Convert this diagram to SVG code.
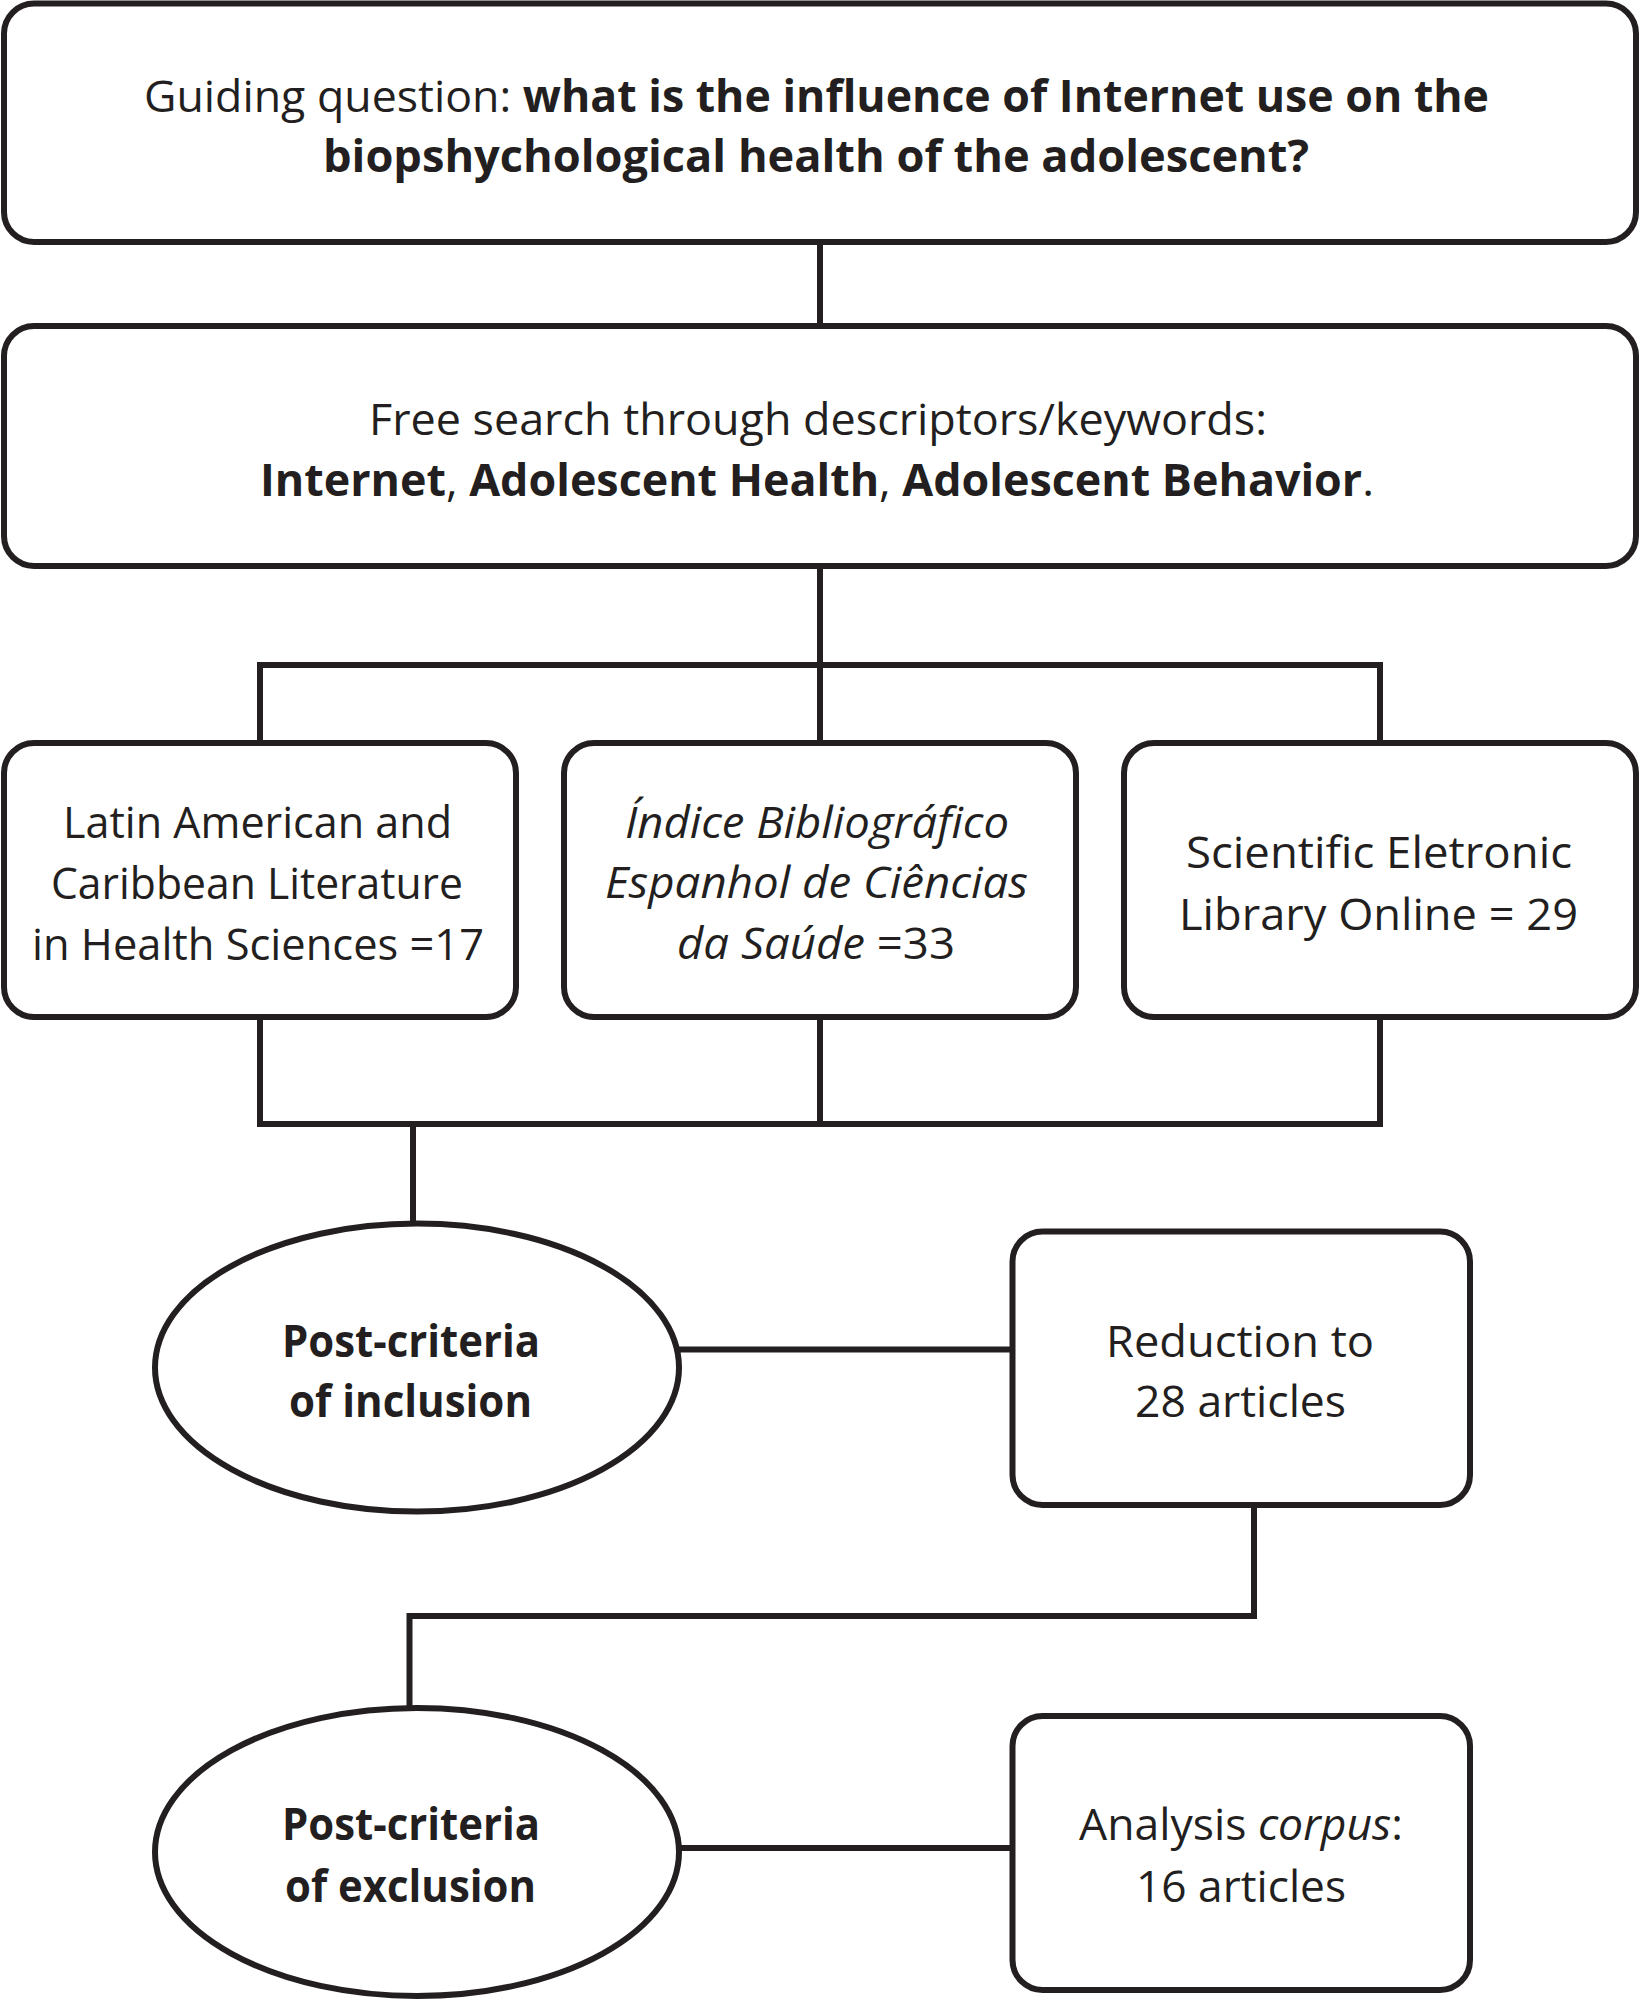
<svg xmlns="http://www.w3.org/2000/svg" width="1641" height="2000" viewBox="0 0 1641 2000">
<style>
.box{fill:#fff;stroke:#231f20;stroke-width:6}
.ln{fill:none;stroke:#231f20;stroke-width:6;stroke-linecap:butt;stroke-linejoin:miter}
text{font-family:"Open Sans","Noto Sans",sans-serif;font-size:44px;fill:#231f20}
.b{font-weight:700}
.i{font-style:italic}
</style>
<rect width="1641" height="2000" fill="#fff"/>
<g id="connectors">
<path class="ln" d="M820 242 V326"/>
<path class="ln" d="M820 566 V743"/>
<path class="ln" d="M260 743 V665 H1380 V743"/>
<path class="ln" d="M260 1017 V1124 H1380 V1017"/>
<path class="ln" d="M820 1017 V1124"/>
<path class="ln" d="M413 1124 V1224"/>
<path class="ln" d="M679 1349.5 H1012"/>
<path class="ln" d="M1254 1505 V1616 H409.5 V1708"/>
<path class="ln" d="M680 1848 H1012"/>
</g>
<g id="guiding-question">
<rect class="box" x="4" y="3.5" width="1632" height="238.5" rx="30"/>
<text x="144" y="112" textLength="1345" lengthAdjust="spacingAndGlyphs">Guiding question: <tspan class="b">what is the influence of Internet use on the</tspan></text>
<text class="b" x="323" y="172" textLength="986" lengthAdjust="spacingAndGlyphs">biopshychological health of the adolescent?</text>
</g>
<g id="free-search">
<rect class="box" x="4" y="326" width="1632" height="240" rx="30"/>
<text x="369" y="435" textLength="898" lengthAdjust="spacingAndGlyphs">Free search through descriptors/keywords:</text>
<text x="260" y="496" textLength="1114" lengthAdjust="spacingAndGlyphs"><tspan class="b">Internet</tspan>, <tspan class="b">Adolescent Health</tspan>, <tspan class="b">Adolescent Behavior</tspan>.</text>
</g>
<g id="lilacs">
<rect class="box" x="4" y="743" width="512" height="274" rx="30"/>
<text x="63" y="838" textLength="389" lengthAdjust="spacingAndGlyphs">Latin American and</text>
<text x="51" y="898.5" textLength="412" lengthAdjust="spacingAndGlyphs">Caribbean Literature</text>
<text x="32" y="960" textLength="452" lengthAdjust="spacingAndGlyphs">in Health Sciences =17</text>
</g>
<g id="ibecs">
<rect class="box" x="564" y="743" width="512" height="274" rx="30"/>
<text class="i" x="625" y="838" textLength="384" lengthAdjust="spacingAndGlyphs">Índice Bibliográfico</text>
<text class="i" x="605" y="898" textLength="423" lengthAdjust="spacingAndGlyphs">Espanhol de Ciências</text>
<text x="677" y="959" textLength="278" lengthAdjust="spacingAndGlyphs"><tspan class="i">da Saúde</tspan> =33</text>
</g>
<g id="scielo">
<rect class="box" x="1124" y="743" width="512" height="274" rx="30"/>
<text x="1186" y="868" textLength="386" lengthAdjust="spacingAndGlyphs">Scientific Eletronic</text>
<text x="1179" y="930" textLength="399" lengthAdjust="spacingAndGlyphs">Library Online = 29</text>
</g>
<g id="inclusion">
<ellipse class="box" cx="417" cy="1367.6" rx="262" ry="144"/>
<text class="b" x="282" y="1356.6" textLength="258" lengthAdjust="spacingAndGlyphs">Post-criteria</text>
<text class="b" x="289" y="1417" textLength="243" lengthAdjust="spacingAndGlyphs">of inclusion</text>
</g>
<g id="reduction">
<rect class="box" x="1012.5" y="1231.5" width="457.5" height="273.5" rx="30"/>
<text x="1106" y="1356.6" textLength="268" lengthAdjust="spacingAndGlyphs">Reduction to</text>
<text x="1135" y="1417" textLength="211" lengthAdjust="spacingAndGlyphs">28 articles</text>
</g>
<g id="exclusion">
<ellipse class="box" cx="417" cy="1852" rx="262" ry="144"/>
<text class="b" x="282" y="1840" textLength="258" lengthAdjust="spacingAndGlyphs">Post-criteria</text>
<text class="b" x="285" y="1901.5" textLength="251" lengthAdjust="spacingAndGlyphs">of exclusion</text>
</g>
<g id="corpus">
<rect class="box" x="1012.5" y="1716" width="457.5" height="274" rx="30"/>
<text x="1079" y="1840" textLength="324" lengthAdjust="spacingAndGlyphs">Analysis <tspan class="i">corpus</tspan>:</text>
<text x="1136" y="1901.5" textLength="210" lengthAdjust="spacingAndGlyphs">16 articles</text>
</g>
</svg>
